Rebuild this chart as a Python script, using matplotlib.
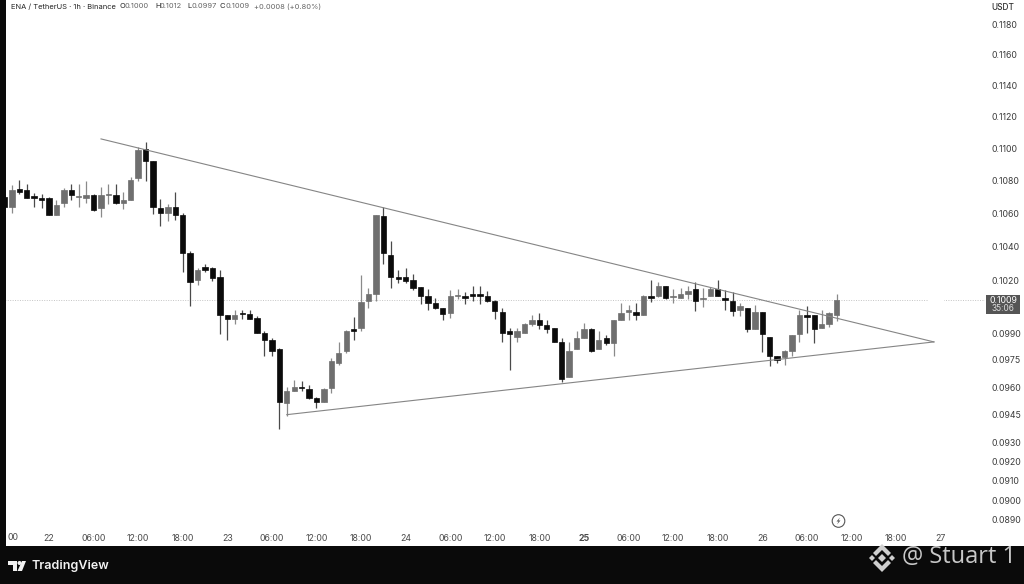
import matplotlib
matplotlib.use('Agg')
import matplotlib.pyplot as plt
import numpy as np
from matplotlib.patches import Circle, Polygon, Rectangle

plt.rcParams['font.family'] = ['Inter', 'DejaVu Sans']

# hours counted from the midnight labelled 22, first candle is 18:00 the day before
first_hour = -6
opens = [
    .10699, .10640, .10744, .10742, .10703, .10690, .10690, .10590, .10660, .10742,
    .10700, .10690, .10711, .10630, .10711, .10711, .10662, .10680, .10814, .10993,
    .10921, .10630, .10600, .10640, .10590, .10361, .10202, .10279, .10271, .10221,
    .10002, .09981, .10012, .10009, .09983, .09903, .09862, .09812, .09512, .09581,
    .09602, .09591, .09539, .09521, .09592, .09732, .09801, .09923, .09930, .10083,
    .10122, .10584, .10351, .10221, .10223, .10204, .10161, .10112, .10072, .10042,
    .10013, .10111, .10112, .10120, .10120, .10112, .10082, .10021, .09911, .09880,
    .09900, .09953, .09971, .09943, .09931, .09852, .09653, .09811, .09871, .09924,
    .09811, .09873, .09843, .09971, .10022, .10022, .10004, .10112, .10112, .10170,
    .10108, .10102, .10124, .10151, .10091, .10114, .10151, .10099, .10082, .10032,
    .10042, .09923, .10021, .09879, .09772, .09763, .09801, .09894, .10002, .10002,
    .09930, .09953, .10000,
]
highs = [
    .10742, .10773, .10804, .10779, .10723, .10717, .10699, .10680, .10754, .10779,
    .10779, .10793, .10717, .10762, .10779, .10779, .10729, .10823, .11008, .11041,
    .10921, .10686, .10656, .10729, .10600, .10376, .10275, .10297, .10279, .10260,
    .10004, .10032, .10028, .10032, .09994, .09909, .09873, .09818, .09602, .09640,
    .09631, .09613, .09548, .09596, .09761, .09852, .09919, .09991, .10230, .10157,
    .10590, .10636, .10436, .10264, .10273, .10240, .10161, .10153, .10099, .10042,
    .10143, .10153, .10137, .10170, .10170, .10141, .10089, .10042, .09928, .09928,
    .09958, .10004, .10013, .09971, .09931, .09871, .09852, .09909, .09957, .09928,
    .09909, .09890, .09975, .10070, .10061, .10070, .10118, .10202, .10190, .10170,
    .10151, .10157, .10169, .10190, .10157, .10166, .10202, .10143, .10137, .10070,
    .10042, .10061, .10021, .09879, .09772, .09805, .09890, .10032, .10051, .10002,
    .10032, .10022, .10120,
]
lows = [
    .10620, .10602, .10717, .10690, .10640, .10634, .10590, .10590, .10640, .10680,
    .10640, .10664, .10610, .10574, .10656, .10656, .10624, .10680, .10793, .10793,
    .10594, .10524, .10554, .10560, .10248, .10055, .10176, .10248, .10196, .09896,
    .09862, .09953, .09979, .09981, .09900, .09772, .09772, .09373, .09444, .09581,
    .09581, .09535, .09486, .09521, .09569, .09722, .09790, .09862, .09914, .10042,
    .10083, .10297, .10157, .10186, .10186, .10147, .10065, .10032, .10036, .09975,
    .09985, .10093, .10066, .10083, .10066, .10078, .09981, .09852, .09695, .09852,
    .09900, .09937, .09925, .09900, .09849, .09630, .09653, .09811, .09871, .09796,
    .09809, .09833, .09772, .09971, .09975, .09975, .10004, .10076, .10108, .10093,
    .10070, .10099, .10093, .10026, .10048, .10112, .10112, .10032, .09994, .09994,
    .09904, .09923, .09796, .09713, .09735, .09722, .09772, .09852, .09900, .09843,
    .09930, .09934, .09970,
]
closes = [
    .10638, .10742, .10731, .10690, .10690, .10682, .10590, .10652, .10742, .10711,
    .10705, .10711, .10620, .10711, .10715, .10660, .10680, .10804, .10989, .10921,
    .10640, .10600, .10640, .10590, .10361, .10190, .10264, .10264, .10213, .10004,
    .09981, .10002, .10009, .09981, .09900, .09862, .09800, .09521, .09581, .09600,
    .09592, .09539, .09521, .09591, .09741, .09790, .09911, .09913, .10079, .10120,
    .10590, .10361, .10221, .10211, .10200, .10159, .10112, .10070, .10042, .10009,
    .10111, .10116, .10102, .10114, .10112, .10082, .10023, .09900, .09892, .09909,
    .09953, .09971, .09943, .09922, .09849, .09642, .09799, .09871, .09923, .09799,
    .09862, .09843, .09971, .10013, .10032, .10004, .10112, .10102, .10170, .10102,
    .10112, .10122, .10140, .10083, .10099, .10151, .10114, .10089, .10023, .10051,
    .09923, .10021, .09892, .09772, .09750, .09799, .09890, .10002, .09990, .09923,
    .09951, .10011, .10090,
]

upper_line_hours = [7.0, 119.1]
upper_line_prices = [.11058, .09850]
lower_line_hours = [32.0, 119.1]
lower_line_prices = [.09450, .09850]

last_price = 0.1009

price_ticks = [.1180, .1160, .1140, .1120, .1100, .1080, .1060, .1040, .1020, .0990,
               .0975, .0960, .0945, .0930, .0920, .0910, .0900, .0890]
time_ticks = [0, 6, 12, 18, 24, 30, 36, 42, 48, 54, 60, 66, 72, 78, 84, 90, 96, 102, 108, 114, 120]
time_labels = ['22', '06:00', '12:00', '18:00', '23', '06:00', '12:00', '18:00', '24', '06:00',
               '12:00', '18:00', '25', '06:00', '12:00', '18:00', '26', '06:00', '12:00', '18:00', '27']

W, H = 1024, 584
fig = plt.figure(figsize=(W / 100, H / 100), dpi=100, facecolor='white')

# chart area: x 0-985, y 0-527 in image pixels
ax = fig.add_axes([0, 1 - 527 / H, 985 / W, 527 / H])
ax.set_yscale('log')
ax.set_xlim((0 - 49) / 7.43, (985 - 49) / 7.43)
ax.set_ylim(.08864, .11969)
for s in ax.spines.values():
    s.set_visible(False)

hours = first_hour + np.arange(len(opens))
o, h, l, c = map(np.array, (opens, highs, lows, closes))
up = c >= o
colors = np.where(up, '#6f6f6f', '#0b0b0b')
wick_colors = np.where(up, '#8a8a8a', '#4a4a4a')
ax.vlines(hours, l, h, colors=wick_colors, lw=0.9, zorder=2)
ax.bar(hours, np.abs(c - o), bottom=np.minimum(o, c), width=0.72, color=colors,
       edgecolor=colors, linewidth=0.5, zorder=3)

ax.plot(upper_line_hours, upper_line_prices, color='#858585', lw=0.8, zorder=4)
ax.plot(lower_line_hours, lower_line_prices, color='#858585', lw=0.8, zorder=4)
ax.axhline(last_price, color='#c4c4c4', lw=0.7, ls=(0, (1, 1.5)), zorder=1)

ax.yaxis.tick_right()
ax.set_yticks(price_ticks, [f'{p:.4f}' for p in price_ticks])
ax.minorticks_off()
ax.tick_params(axis='y', length=0, pad=4.5, labelsize=6.3, labelcolor='#3c3c3c')
ax.set_xticks(time_ticks, time_labels)
ax.tick_params(axis='x', length=0, pad=5.2, labelsize=6.3, labelcolor='#4a4a4a')
ax.get_xticklabels()[12].set_fontweight('bold')

# everything outside the plot scale goes in pixel coordinates
top = fig.add_axes([0, 0, 1, 1], zorder=5)
top.set_xlim(0, W)
top.set_ylim(H, 0)
top.axis('off')
top.patch.set_alpha(0)

top.add_patch(Rectangle((0, 0), 6, 546, color='#0a0a0a', lw=0))
top.add_patch(Rectangle((0, 546), W, 38, color='#0a0a0a', lw=0))
top.add_patch(Rectangle((928, 296), 16, 8, color='white', lw=0))

# tail of the clipped 18:00 label at the left edge
top.text(7, 538, '00', color='#4a4a4a', fontsize=6.3, ha='left', va='center')

# last price tag
top.add_patch(Rectangle((986, 295), 34, 18.5, color='#555555', lw=0))
top.text(1003, 300.5, '0.1009', color='white', fontsize=6.3, ha='center', va='center')
top.text(1003, 308.5, '35:06', color='#dddddd', fontsize=6.0, ha='center', va='center')
top.text(1003, 7, 'USDT', color='#333333', fontsize=6.0, ha='center', va='center', fontweight='medium')

# header
dark, grey = '#222222', '#666666'
header = [
    (11, 'ENA / TetherUS · 1h · Binance', dark), (119.5, 'O', dark), (124.5, '0.1000', grey),
    (155, 'H', dark), (160, '0.1012', grey), (187, 'L', dark), (191.5, '0.0997', grey),
    (220, 'C', dark), (225, '0.1009', grey), (254, '+0.0008 (+0.80%)', grey),
]
for x, txt, col in header:
    top.text(x, 6.5, txt, color=col, fontsize=5.4, ha='left', va='center')

# replay bolt icon
top.add_patch(Circle((838.5, 521), 6.3, fill=False, ec='#555555', lw=0.8))
top.add_patch(Polygon([(840, 517.5), (836.5, 521.5), (838.5, 521.5), (837, 524.5), (840.5, 520.5), (838.5, 520.5)],
                      color='#555555', lw=0))

# TradingView logo
logo = '#f2f2f2'
top.add_patch(Polygon([(8, 561), (17, 561), (17, 571), (12.5, 571), (12.5, 565), (8, 565)], color=logo, lw=0))
top.add_patch(Circle((19.5, 563), 2, color=logo, lw=0))
top.add_patch(Polygon([(22, 561), (26, 561), (22, 571), (17.5, 571)], color=logo, lw=0))
top.text(31, 566, 'TradingView', color=logo, fontsize=9, ha='left', va='center', fontweight='semibold')

# watermark
mark = '#cfcfcf'
cx, cy = 882, 558
top.add_patch(Polygon([(cx, cy - 4), (cx + 4, cy), (cx, cy + 4), (cx - 4, cy)], color=mark, lw=0))
top.add_patch(Polygon([(cx - 13, cy), (cx - 10, cy - 3), (cx - 7, cy), (cx - 10, cy + 3)], color=mark, lw=0))
top.add_patch(Polygon([(cx + 13, cy), (cx + 10, cy - 3), (cx + 7, cy), (cx + 10, cy + 3)], color=mark, lw=0))
top.add_patch(Polygon([(cx, cy - 14), (cx + 9, cy - 5), (cx + 6, cy - 2), (cx, cy - 8), (cx - 6, cy - 2), (cx - 9, cy - 5)],
                      color=mark, lw=0))
top.add_patch(Polygon([(cx, cy + 14), (cx + 9, cy + 5), (cx + 6, cy + 2), (cx, cy + 8), (cx - 6, cy + 2), (cx - 9, cy + 5)],
                      color=mark, lw=0))
top.text(902, 557, '@ Stuart 1', color='#c8c8c8', fontsize=17, ha='left', va='center', family='Open Sans')

fig.savefig('out.png', dpi=100)
